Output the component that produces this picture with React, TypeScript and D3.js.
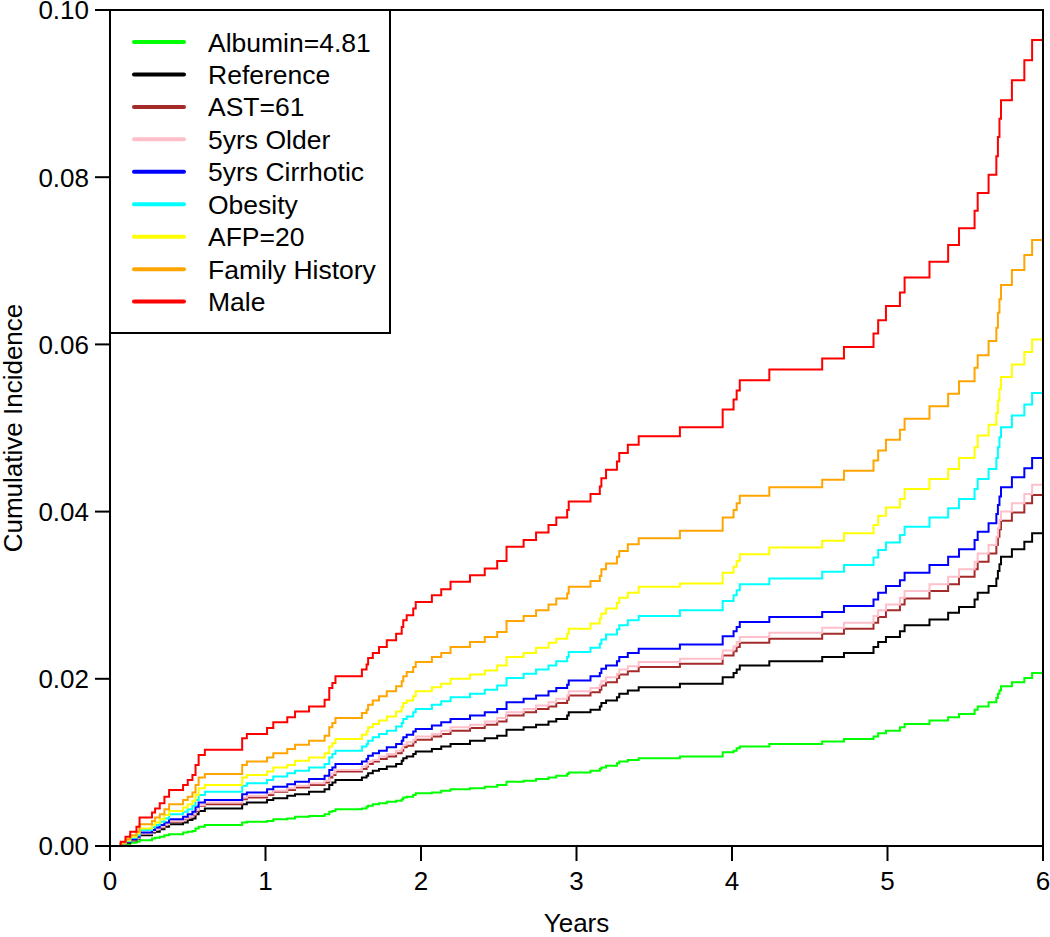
import React, { useEffect, useRef } from 'react';
import * as d3 from 'd3';

// event times (years) shared by all the curves
const eventYears = [
  0.069, 0.10, 0.13, 0.17, 0.19, 0.27, 0.29, 0.32, 0.35, 0.38,
  0.47, 0.50, 0.53, 0.55, 0.57, 0.61, 0.85, 0.88, 1.01, 1.05,
  1.14, 1.19, 1.28, 1.38, 1.41, 1.43, 1.45, 1.62, 1.65, 1.66,
  1.69, 1.73, 1.78, 1.84, 1.876, 1.886, 1.908, 1.95, 1.966, 2.07,
  2.13, 2.19, 2.315, 2.41, 2.49, 2.55, 2.66, 2.74, 2.82, 2.87,
  2.94, 2.95, 3.09, 3.15, 3.16, 3.19, 3.26, 3.275, 3.33, 3.40,
  3.665, 3.94, 4.01, 4.03, 4.05, 4.24, 4.58, 4.72, 4.91, 4.94,
  4.99, 5.08, 5.11, 5.27, 5.39, 5.46, 5.56, 5.58, 5.65, 5.70,
  5.71, 5.72, 5.73, 5.80, 5.88, 5.93
];

const albumin = [
  0.0001, 0.0002, 0.0004, 0.0005, 0.0007, 0.0009, 0.0010, 0.0011, 0.0013, 0.0014,
  0.0016, 0.0017, 0.0018, 0.0021, 0.0023, 0.0025, 0.0028, 0.0029, 0.0030, 0.0032,
  0.0033, 0.0035, 0.0036, 0.0038, 0.0041, 0.0042, 0.0044, 0.0045, 0.0047, 0.0048,
  0.0050, 0.0051, 0.0053, 0.0054, 0.0056, 0.0058, 0.0059, 0.0061, 0.0063, 0.0064,
  0.0066, 0.0068, 0.0069, 0.0071, 0.0073, 0.0077, 0.0078, 0.0080, 0.0082, 0.0084,
  0.0086, 0.0088, 0.0090, 0.0092, 0.0094, 0.0096, 0.0099, 0.0101, 0.0103, 0.0105,
  0.0107, 0.0112, 0.0114, 0.0117, 0.0119, 0.0122, 0.0125, 0.0128, 0.0131, 0.0135,
  0.0138, 0.0142, 0.0146, 0.0150, 0.0154, 0.0158, 0.0163, 0.0167, 0.0172, 0.0177,
  0.0182, 0.0186, 0.0191, 0.0196, 0.0201, 0.0207
];

const reference = [
  0.0002, 0.0004, 0.0007, 0.0009, 0.0013, 0.0016, 0.0017, 0.0020, 0.0023, 0.0026,
  0.0028, 0.0031, 0.0033, 0.0038, 0.0042, 0.0045, 0.0050, 0.0052, 0.0055, 0.0057,
  0.0060, 0.0062, 0.0065, 0.0068, 0.0073, 0.0076, 0.0079, 0.0082, 0.0084, 0.0087,
  0.0090, 0.0092, 0.0095, 0.0098, 0.0102, 0.0105, 0.0107, 0.0110, 0.0113, 0.0116,
  0.0119, 0.0122, 0.0126, 0.0129, 0.0132, 0.0139, 0.0142, 0.0145, 0.0149, 0.0152,
  0.0156, 0.0160, 0.0163, 0.0167, 0.0171, 0.0174, 0.0178, 0.0182, 0.0186, 0.0190,
  0.0194, 0.0202, 0.0207, 0.0211, 0.0216, 0.0221, 0.0226, 0.0231, 0.0238, 0.0244,
  0.0250, 0.0257, 0.0264, 0.0271, 0.0279, 0.0286, 0.0295, 0.0303, 0.0311, 0.0320,
  0.0329, 0.0337, 0.0346, 0.0355, 0.0364, 0.0374
];

const ast = [
  0.0002, 0.0005, 0.0007, 0.0010, 0.0015, 0.0017, 0.0020, 0.0022, 0.0026, 0.0029,
  0.0032, 0.0034, 0.0037, 0.0042, 0.0048, 0.0050, 0.0056, 0.0058, 0.0061, 0.0065,
  0.0067, 0.0070, 0.0073, 0.0076, 0.0082, 0.0085, 0.0089, 0.0092, 0.0095, 0.0098,
  0.0101, 0.0104, 0.0107, 0.0111, 0.0114, 0.0118, 0.0120, 0.0124, 0.0127, 0.0131,
  0.0134, 0.0138, 0.0141, 0.0145, 0.0149, 0.0156, 0.0160, 0.0164, 0.0167, 0.0171,
  0.0175, 0.0180, 0.0184, 0.0187, 0.0192, 0.0196, 0.0201, 0.0205, 0.0209, 0.0214,
  0.0218, 0.0228, 0.0233, 0.0238, 0.0243, 0.0248, 0.0254, 0.0260, 0.0267, 0.0274,
  0.0282, 0.0289, 0.0296, 0.0305, 0.0313, 0.0322, 0.0331, 0.0340, 0.0350, 0.0360,
  0.0370, 0.0379, 0.0389, 0.0399, 0.0410, 0.0420
];

const older = [
  0.0002, 0.0005, 0.0008, 0.0010, 0.0015, 0.0018, 0.0020, 0.0023, 0.0026, 0.0030,
  0.0033, 0.0035, 0.0038, 0.0043, 0.0049, 0.0052, 0.0058, 0.0060, 0.0063, 0.0066,
  0.0069, 0.0072, 0.0075, 0.0078, 0.0085, 0.0087, 0.0091, 0.0095, 0.0097, 0.0101,
  0.0103, 0.0107, 0.0110, 0.0114, 0.0117, 0.0121, 0.0124, 0.0127, 0.0131, 0.0134,
  0.0138, 0.0142, 0.0145, 0.0149, 0.0153, 0.0160, 0.0164, 0.0168, 0.0172, 0.0176,
  0.0180, 0.0185, 0.0189, 0.0193, 0.0197, 0.0202, 0.0206, 0.0211, 0.0215, 0.0220,
  0.0224, 0.0234, 0.0239, 0.0244, 0.0250, 0.0255, 0.0261, 0.0267, 0.0275, 0.0282,
  0.0289, 0.0297, 0.0305, 0.0313, 0.0322, 0.0331, 0.0340, 0.0350, 0.0360, 0.0370,
  0.0380, 0.0390, 0.0400, 0.0410, 0.0421, 0.0432
];

const cirrhotic = [
  0.0002, 0.0005, 0.0008, 0.0011, 0.0016, 0.0019, 0.0022, 0.0025, 0.0028, 0.0032,
  0.0035, 0.0038, 0.0041, 0.0047, 0.0052, 0.0055, 0.0062, 0.0064, 0.0068, 0.0071,
  0.0074, 0.0077, 0.0080, 0.0084, 0.0091, 0.0094, 0.0098, 0.0101, 0.0104, 0.0108,
  0.0111, 0.0114, 0.0118, 0.0122, 0.0126, 0.0130, 0.0133, 0.0137, 0.0140, 0.0144,
  0.0148, 0.0152, 0.0156, 0.0160, 0.0164, 0.0172, 0.0176, 0.0180, 0.0185, 0.0189,
  0.0193, 0.0198, 0.0203, 0.0207, 0.0212, 0.0216, 0.0221, 0.0226, 0.0231, 0.0236,
  0.0241, 0.0251, 0.0257, 0.0262, 0.0268, 0.0274, 0.0280, 0.0287, 0.0295, 0.0303,
  0.0311, 0.0318, 0.0327, 0.0336, 0.0346, 0.0355, 0.0366, 0.0376, 0.0386, 0.0397,
  0.0408, 0.0418, 0.0429, 0.0441, 0.0452, 0.0464
];

const obesity = [
  0.0003, 0.0006, 0.0010, 0.0013, 0.0019, 0.0022, 0.0025, 0.0029, 0.0033, 0.0038,
  0.0041, 0.0044, 0.0048, 0.0055, 0.0061, 0.0065, 0.0072, 0.0075, 0.0079, 0.0083,
  0.0087, 0.0090, 0.0094, 0.0098, 0.0106, 0.0110, 0.0114, 0.0119, 0.0122, 0.0126,
  0.0130, 0.0134, 0.0138, 0.0143, 0.0147, 0.0152, 0.0155, 0.0160, 0.0164, 0.0169,
  0.0173, 0.0178, 0.0182, 0.0187, 0.0192, 0.0201, 0.0206, 0.0211, 0.0216, 0.0221,
  0.0226, 0.0232, 0.0237, 0.0242, 0.0247, 0.0253, 0.0259, 0.0264, 0.0270, 0.0275,
  0.0282, 0.0293, 0.0300, 0.0306, 0.0313, 0.0320, 0.0328, 0.0336, 0.0345, 0.0354,
  0.0363, 0.0372, 0.0382, 0.0393, 0.0404, 0.0415, 0.0427, 0.0439, 0.0451, 0.0464,
  0.0477, 0.0489, 0.0501, 0.0515, 0.0528, 0.0542
];

const afp = [
  0.0003, 0.0007, 0.0011, 0.0015, 0.0021, 0.0025, 0.0028, 0.0032, 0.0037, 0.0042,
  0.0046, 0.0050, 0.0054, 0.0061, 0.0069, 0.0073, 0.0082, 0.0085, 0.0089, 0.0094,
  0.0097, 0.0102, 0.0106, 0.0111, 0.0119, 0.0123, 0.0128, 0.0133, 0.0137, 0.0142,
  0.0146, 0.0150, 0.0155, 0.0161, 0.0166, 0.0171, 0.0174, 0.0179, 0.0185, 0.0190,
  0.0194, 0.0200, 0.0205, 0.0210, 0.0216, 0.0226, 0.0231, 0.0237, 0.0243, 0.0248,
  0.0254, 0.0260, 0.0266, 0.0272, 0.0278, 0.0284, 0.0291, 0.0297, 0.0303, 0.0310,
  0.0314, 0.0327, 0.0334, 0.0341, 0.0349, 0.0357, 0.0365, 0.0374, 0.0384, 0.0395,
  0.0405, 0.0415, 0.0427, 0.0439, 0.0451, 0.0464, 0.0477, 0.0491, 0.0504, 0.0518,
  0.0533, 0.0547, 0.0561, 0.0576, 0.0591, 0.0606
];

const familyHistory = [
  0.0004, 0.0008, 0.0013, 0.0017, 0.0026, 0.0030, 0.0034, 0.0038, 0.0044, 0.0050,
  0.0055, 0.0059, 0.0064, 0.0073, 0.0082, 0.0086, 0.0097, 0.0101, 0.0106, 0.0111,
  0.0116, 0.0121, 0.0126, 0.0132, 0.0142, 0.0147, 0.0153, 0.0159, 0.0163, 0.0169,
  0.0174, 0.0179, 0.0185, 0.0191, 0.0197, 0.0203, 0.0208, 0.0214, 0.0220, 0.0226,
  0.0231, 0.0238, 0.0244, 0.0250, 0.0256, 0.0269, 0.0275, 0.0282, 0.0289, 0.0296,
  0.0302, 0.0310, 0.0317, 0.0323, 0.0331, 0.0338, 0.0346, 0.0353, 0.0361, 0.0368,
  0.0377, 0.0393, 0.0402, 0.0410, 0.0419, 0.0429, 0.0438, 0.0449, 0.0461, 0.0473,
  0.0486, 0.0498, 0.0511, 0.0526, 0.0541, 0.0556, 0.0572, 0.0587, 0.0604, 0.0620,
  0.0638, 0.0654, 0.0671, 0.0689, 0.0707, 0.0725
];

const male = [
  0.0005, 0.0011, 0.0017, 0.0023, 0.0034, 0.0040, 0.0045, 0.0051, 0.0059, 0.0067,
  0.0073, 0.0079, 0.0085, 0.0097, 0.0109, 0.0115, 0.0129, 0.0134, 0.0141, 0.0148,
  0.0154, 0.0161, 0.0167, 0.0175, 0.0189, 0.0195, 0.0203, 0.0211, 0.0217, 0.0225,
  0.0231, 0.0238, 0.0246, 0.0254, 0.0262, 0.0270, 0.0276, 0.0284, 0.0292, 0.0300,
  0.0307, 0.0316, 0.0324, 0.0332, 0.0341, 0.0358, 0.0366, 0.0375, 0.0384, 0.0393,
  0.0402, 0.0412, 0.0421, 0.0430, 0.0440, 0.0450, 0.0460, 0.0470, 0.0480, 0.0490,
  0.0501, 0.0522, 0.0534, 0.0545, 0.0557, 0.0570, 0.0583, 0.0597, 0.0613, 0.0629,
  0.0646, 0.0662, 0.0680, 0.0699, 0.0719, 0.0739, 0.0760, 0.0781, 0.0803, 0.0825,
  0.0848, 0.0870, 0.0892, 0.0916, 0.0940, 0.0964
];

const seriesLabels = [
  'Albumin=4.81', 'Reference', 'AST=61', '5yrs Older', '5yrs Cirrhotic',
  'Obesity', 'AFP=20', 'Family History', 'Male'
];
const seriesValues = [albumin, reference, ast, older, cirrhotic, obesity, afp, familyHistory, male];
const seriesColors = [
  '#00FF00', '#000000', '#A52A2A', '#FFC0CB', '#0000FF',
  '#00FFFF', '#FFFF00', '#FFA500', '#FF0000'
];

const xTicks = [0, 1, 2, 3, 4, 5, 6];
const yTicks = [0, 0.02, 0.04, 0.06, 0.08, 0.1];

const WIDTH = 1050;
const HEIGHT = 937;
const FONT = "'Liberation Sans', Arial, Helvetica, sans-serif";

const App: React.FC = () => {
  const svgRef = useRef<SVGSVGElement>(null);

  useEffect(() => {
    document.body.style.margin = '0';
    if (!svgRef.current) return;

    const svg = d3.select(svgRef.current);
    svg.selectAll('*').remove();

    const x = d3.scaleLinear().domain([0, 6]).range([110, 1043]);
    const y = d3.scaleLinear().domain([0, 0.1]).range([846, 10]);

    const line = d3.line<[number, number]>()
      .x(d => x(d[0]))
      .y(d => y(d[1]))
      .curve(d3.curveStepAfter);

    // curves, drawn in legend order so Male sits on top
    seriesValues.forEach((values, i) => {
      const points: [number, number][] = [[0, 0]];
      eventYears.forEach((t, j) => points.push([t, values[j]]));
      points.push([6, values[values.length - 1]]);

      svg.append('path')
        .datum(points)
        .attr('d', line)
        .attr('fill', 'none')
        .attr('stroke', seriesColors[i])
        .attr('stroke-width', 2);
    });

    // plot box
    svg.append('rect')
      .attr('x', x(0))
      .attr('y', y(0.1))
      .attr('width', x(6) - x(0))
      .attr('height', y(0) - y(0.1))
      .attr('fill', 'none')
      .attr('stroke', '#000')
      .attr('stroke-width', 2);

    // x axis
    const xAxis = svg.append('g');
    xTicks.forEach(t => {
      xAxis.append('line')
        .attr('x1', x(t)).attr('x2', x(t))
        .attr('y1', y(0)).attr('y2', y(0) + 15)
        .attr('stroke', '#000')
        .attr('stroke-width', 2);
      xAxis.append('text')
        .attr('x', x(t))
        .attr('y', 890)
        .attr('text-anchor', 'middle')
        .style('font-family', FONT)
        .style('font-size', '26px')
        .text(String(t));
    });

    // y axis
    const yAxis = svg.append('g');
    yTicks.forEach(t => {
      yAxis.append('line')
        .attr('x1', x(0) - 15).attr('x2', x(0))
        .attr('y1', y(t)).attr('y2', y(t))
        .attr('stroke', '#000')
        .attr('stroke-width', 2);
      yAxis.append('text')
        .attr('x', 89)
        .attr('y', y(t))
        .attr('dy', '0.36em')
        .attr('text-anchor', 'end')
        .style('font-family', FONT)
        .style('font-size', '26px')
        .text(d3.format('.2f')(t));
    });

    // axis labels
    svg.append('text')
      .attr('x', (x(0) + x(6)) / 2)
      .attr('y', 932)
      .attr('text-anchor', 'middle')
      .style('font-family', FONT)
      .style('font-size', '26px')
      .text('Years');

    svg.append('text')
      .attr('transform', 'rotate(-90)')
      .attr('x', -(y(0) + y(0.1)) / 2)
      .attr('y', 22)
      .attr('text-anchor', 'middle')
      .style('font-family', FONT)
      .style('font-size', '26px')
      .text('Cumulative Incidence');

    // legend
    const legend = svg.append('g');
    legend.append('rect')
      .attr('x', x(0))
      .attr('y', y(0.1))
      .attr('width', 280)
      .attr('height', 323)
      .attr('fill', '#fff')
      .attr('stroke', '#000')
      .attr('stroke-width', 2);

    seriesLabels.forEach((label, i) => {
      const cy = 42 + i * 32.45;
      legend.append('line')
        .attr('x1', 134).attr('x2', 184)
        .attr('y1', cy).attr('y2', cy)
        .attr('stroke', seriesColors[i])
        .attr('stroke-width', 4)
        .attr('stroke-linecap', 'round');
      legend.append('text')
        .attr('x', 208)
        .attr('y', cy)
        .attr('dy', '0.36em')
        .style('font-family', FONT)
        .style('font-size', '26.5px')
        .text(label);
    });
  }, []);

  return (
    <svg
      ref={svgRef}
      width={WIDTH}
      height={HEIGHT}
      style={{ position: 'absolute', left: 0, top: 0, background: '#fff' }}
    />
  );
};

export default App;
